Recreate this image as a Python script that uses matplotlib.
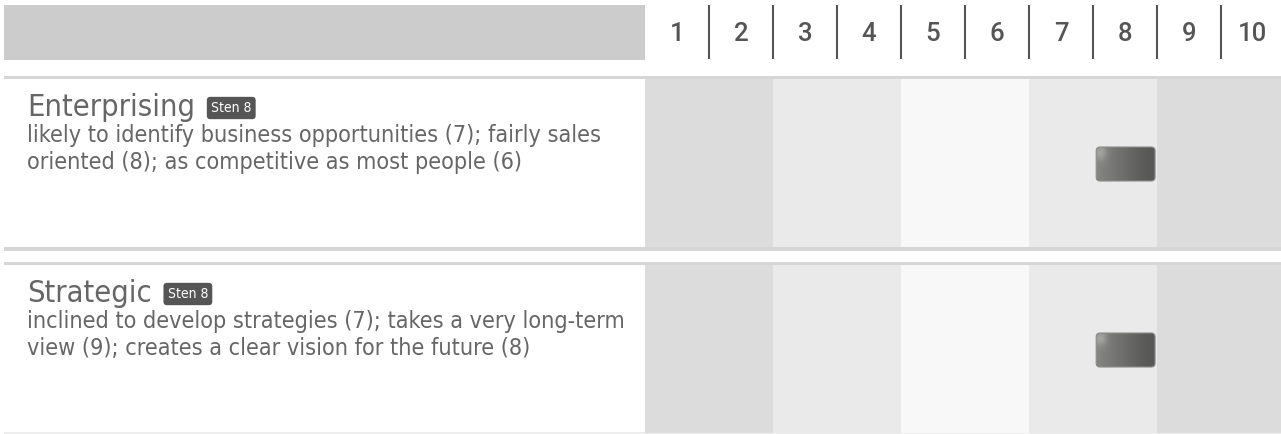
import numpy as np
import matplotlib.pyplot as plt
from matplotlib.patches import FancyBboxPatch, Rectangle

# data
columns = list(range(1, 11))
band_colors = ['#dcdcdc', '#dcdcdc', '#eaeaea', '#eaeaea', '#f8f8f8',
               '#f8f8f8', '#eaeaea', '#eaeaea', '#dcdcdc', '#dcdcdc']
scale_names = ['Enterprising', 'Strategic']
sten_scores = [8, 8]
descriptions = [
    ['likely to identify business opportunities (7); fairly sales',
     'oriented (8); as competitive as most people (6)'],
    ['inclined to develop strategies (7); takes a very long-term',
     'view (9); creates a clear vision for the future (8)'],
]

W, H = 1281, 434
FONT = ['Roboto', 'DejaVu Sans']
NARROW = dict(family='DejaVu Sans', stretch='condensed')
TEXT_C = '#666666'
DARK = '#555555'
LINE_C = '#d6d6d6'

fig = plt.figure(figsize=(W / 100, H / 100), dpi=100)
renderer = fig.canvas.get_renderer()

# pixel axes for the layout (y goes down)
ax = fig.add_axes([0, 0, 1, 1])
ax.set_xlim(0, W)
ax.set_ylim(H, 0)
ax.axis('off')

# grid axes: x in sten units
grid_left, col_w = 645, 64
gx = fig.add_axes([grid_left / W, 0, (W - grid_left) / W, 1])
gx.axis('off')

# header
ax.add_patch(Rectangle((4, 5), grid_left - 4, 55, color='#cccccc', lw=0))
for c in columns:
    gx.text(c, 34, str(c), ha='center', va='center', fontsize=18.5,
            color=DARK, family=FONT, weight='medium')
gx.vlines(np.array(columns[:-1]) + 0.5, 5, 59, color=DARK, lw=1.5)

# separator lines
for y0, y1 in [(76, 79), (247, 251), (262, 265)]:
    ax.add_patch(Rectangle((4, y0), W - 4, y1 - y0, color=LINE_C, lw=0))
ax.add_patch(Rectangle((4, 432), W - 4, 2, color='#eeeeee', lw=0))

row_tops = [79, 265]
row_h = 168


def fitted(x, y, s, target_w, size, **kw):
    t = ax.text(x, y, s, fontsize=size, **kw)
    w = t.get_window_extent(renderer).width
    t.set_fontsize(size * target_w / w)
    return t


# font sizes fitted to the reference widths
probe = fitted(27, -100, scale_names[0], 168, 20, **NARROW)
title_size = probe.get_fontsize()
probe.remove()
probe = fitted(27, -100, descriptions[0][0], 576, 15, **NARROW)
body_size = probe.get_fontsize()
probe.remove()

for name, sten, desc, top in zip(scale_names, sten_scores, descriptions, row_tops):
    # bands
    gx.bar(columns, row_h, bottom=top, width=1, color=band_colors, lw=0)

    # marker
    cy = top + row_h / 2 + 1
    x0, w, h = sten - 0.45, 0.92, 34
    box = FancyBboxPatch((x0, cy - h / 2), w, h,
                         boxstyle='round,pad=0,rounding_size=0.06',
                         mutation_aspect=col_w, fc='none', ec='#8c8c8c', lw=0.8,
                         zorder=4)
    gx.add_patch(box)
    xs = np.linspace(0, 1, 120)
    ys = np.linspace(0, 1, 60)
    X, Y = np.meshgrid(xs, ys)
    base = 0x86 - 0x2e * np.clip(X * 1.15, 0, 1)
    glow = 0x22 * np.exp(-((X - 0.08) ** 2 / 0.01 + (Y - 0.15) ** 2 / 0.05))
    v = np.clip(base + glow, 0, 255) / 255.0
    img = np.dstack([v, v, v * 0.98])
    im = gx.imshow(img, extent=(x0, x0 + w, cy + h / 2, cy - h / 2),
                   origin='upper', aspect='auto', zorder=3, interpolation='bilinear')
    im.set_clip_path(box)

    # text
    t = ax.text(27, top + 37, name, fontsize=title_size, **NARROW,
                color=TEXT_C, va='baseline')
    ext = t.get_window_extent(renderer)
    ax.text(ext.x1 + 16, top + 29, 'Sten ' + str(sten), fontsize=10,
            **NARROW, color='white', va='center', ha='left',
            bbox=dict(boxstyle='round,pad=0.3,rounding_size=0.25', fc=DARK, ec='none'))
    for i, line in enumerate(desc):
        ax.text(27, top + 63 + 27 * i, line, fontsize=body_size, **NARROW,
                color=TEXT_C, va='baseline')

gx.set_xlim(0.5, 0.5 + (W - grid_left) / col_w)
gx.set_ylim(H, 0)

fig.savefig('out.png', dpi=100)
